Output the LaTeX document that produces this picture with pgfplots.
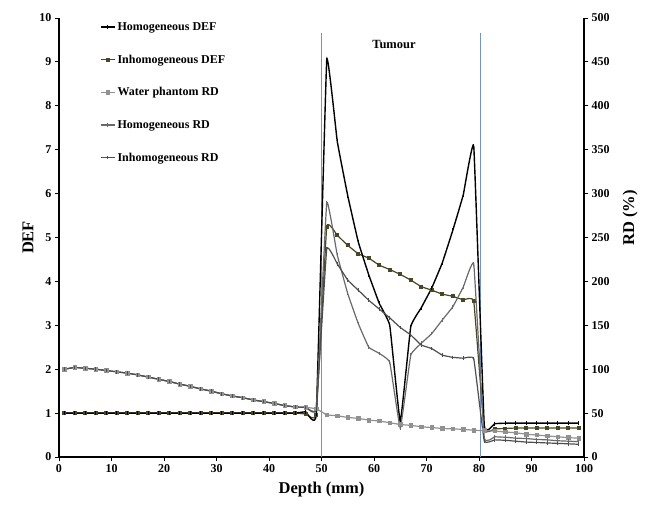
\documentclass[border=0pt]{standalone}
\usepackage{fontspec}
\setmainfont{Liberation Serif}
\usepackage{pgfplots}
\usepackage{pgfplotstable}
\pgfplotsset{compat=1.18}

\definecolor{defolive}{RGB}{72,70,36}
\definecolor{watergray}{RGB}{145,145,145}
\definecolor{homgray}{RGB}{105,105,105}
\definecolor{inhgray}{RGB}{78,78,78}
\definecolor{tumourline}{RGB}{115,148,195}

% DEF curves (left axis)
\pgfplotstableread{
x  hdef idef
1  1.00 1.00
3  1.00 1.00
5  1.00 1.00
7  1.00 1.00
9  1.00 1.00
11 1.00 1.00
13 1.00 1.00
15 1.00 1.00
17 1.00 1.00
19 1.00 1.00
21 1.00 1.00
23 1.00 1.00
25 1.00 1.00
27 1.00 1.00
29 1.00 1.00
31 1.00 1.00
33 1.00 1.00
35 1.00 1.00
37 1.00 1.00
39 1.00 1.00
41 1.00 1.00
43 1.00 1.00
45 1.00 1.00
47 1.03 0.98
49 0.97 0.96
51 9.05 5.25
53 7.19 5.05
55 5.95 4.82
57 4.90 4.63
59 4.15 4.53
61 3.50 4.37
63 3.00 4.27
65 0.80 4.16
67 2.97 4.03
69 3.40 3.88
71 3.85 3.80
73 4.42 3.71
75 5.16 3.66
77 5.97 3.58
79 7.08 3.55
81 0.72 0.62
83 0.76 0.64
85 0.77 0.65
87 0.77 0.66
89 0.77 0.66
91 0.77 0.66
93 0.77 0.66
95 0.77 0.66
97 0.77 0.66
99 0.77 0.66
}\deftable

% RD curves (right axis, %)
\pgfplotstableread{
x  water hrd   ird
1  100   100   100
3  102   102   102
5  101   101   101
7  100   100   100
9  98.5  98.5  98.5
11 97    97    97
13 95.5  95.5  95.5
15 93.5  93.5  93.5
17 91    91    91
19 88.5  88.5  88.5
21 86    86    86
23 83    83    83
25 80.5  80.5  80.5
27 77.5  77.5  77.5
29 75    75    75
31 72    72    72
33 69.5  69.5  69.5
35 67.5  67.5  67.5
37 65    65    65
39 63    63    63
41 61    61    61
43 58.5  58.5  58.5
45 57    57    57
47 56.5  56.5  56.5
49 55    55    54.5
51 48    290   237
53 47    230   220
55 45    186   201.5
57 44    152   190
59 42    125   178.5
61 41    118   168.5
63 39    108   158.5
65 37    33    147.5
67 36    116   139
69 34.5  129.5 127.5
71 33.5  140.5 123.5
73 32.5  156   116
75 32    171   113.5
77 31.5  193.5 112.5
79 30.5  220   112
81 30    22    18
83 29.5  23    19.5
85 28.5  22.5  19
87 27.5  21.5  18
89 26    21    17
91 25    20    16.5
93 24    19.5  16
95 23    18.5  15.5
97 22    18    15
99 21.5  17.5  14.5
}\rdtable

\pgfplotsset{
  base/.style={
    scale only axis, width=525pt, height=439pt,
    xmin=0, xmax=100,
    tick align=outside, major tick length=4pt,
    tick style={black, line width=0.9pt},
    axis line style={black, line width=1.1pt, -},
    ticklabel style={font=\bfseries\fontsize{12}{14}\selectfont},
    /pgf/number format/assume math mode=true,
    label style={font=\bfseries\fontsize{16.5}{18}\selectfont},
  },
  curve/.style={smooth, tension=0.15, line width=1.2pt, mark size=1.8pt, mark options={solid, line width=0.8pt}},
}

\begin{document}
\begin{tikzpicture}
\begin{axis}[base,
  axis x line*=bottom, axis y line*=left,
  ymin=0, ymax=10, ytick={0,1,...,10},
  xtick={0,10,...,100},
  xlabel={Depth (mm)}, ylabel={DEF},
  xlabel style={at={(axis description cs:0.5,-0.075)}, anchor=center},
  ylabel style={at={(axis description cs:-0.059,0.5)}, anchor=center},
]
\addplot[tumourline, line width=0.8pt] coordinates {(50,0) (50,9.65)};
\addplot[tumourline, line width=0.8pt] coordinates {(80.2,0) (80.2,9.65)};
\node[font=\bfseries\fontsize{12.5}{14}\selectfont] at (axis cs:63.8,9.4) {Tumour};
\addplot[curve, defolive, mark=square*, mark size=1.5pt] table[x=x, y=idef] {\deftable};
\addplot[curve, black, line width=1.4pt, mark=|, mark size=2pt] table[x=x, y=hdef] {\deftable};
\end{axis}

\begin{axis}[base,
  axis x line=none, axis y line*=right,
  ymin=0, ymax=500, ytick={0,50,...,500},
  ylabel={RD (\%)},
  ylabel style={at={(axis description cs:1.088,0.544)}, anchor=center},
  legend cell align=left,
  legend style={at={(axis description cs:0.078,0.995)}, anchor=north west,
    draw=none, fill=none, inner sep=0pt, row sep=19pt,
    font=\bfseries\fontsize{12}{14}\selectfont},
  legend image code/.code={\draw[mark repeat=2, mark phase=2, #1]
    plot coordinates {(0pt,0pt) (7pt,0pt) (14pt,0pt)};},
]
\addlegendimage{black, line width=1.4pt, mark=|, mark size=2pt, mark options={solid, line width=0.8pt}}
\addlegendimage{defolive, line width=1.2pt, mark=square*, mark size=1.5pt}
\addplot[curve, watergray, mark=square*, mark size=1.8pt] table[x=x, y=water] {\rdtable};
\addplot[curve, homgray, mark=|] table[x=x, y=hrd] {\rdtable};
\addplot[curve, inhgray, mark=|] table[x=x, y=ird] {\rdtable};
\legend{Homogeneous DEF, Inhomogeneous DEF, Water phantom RD, Homogeneous RD, Inhomogeneous RD}
\end{axis}
\pgfresetboundingbox
\path ([shift={(-59pt,-53pt)}]current axis.south west) rectangle ([shift={(82pt,18pt)}]current axis.north east);
\end{tikzpicture}
\end{document}
